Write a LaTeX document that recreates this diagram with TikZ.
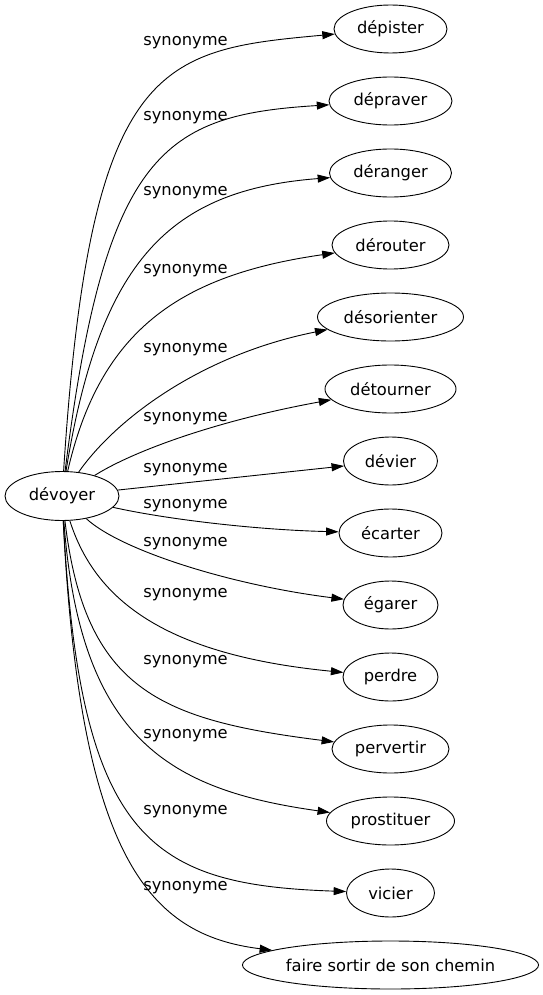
\documentclass[tikz,border=0pt]{standalone}
\usepackage{fontspec}
\setmainfont{DejaVu Sans}
\usetikzlibrary{shapes.geometric,arrows.meta}
\begin{document}
\begin{tikzpicture}[x=1pt,y=-1pt,
  word/.style={ellipse,draw,line width=0.9pt,inner sep=0pt,minimum height=48pt,font=\fontsize{16.3}{18}\selectfont},
  lbl/.style={inner sep=0pt,anchor=base,font=\fontsize{16.3}{18}\selectfont},
  syn/.style={line width=0.9pt,-{Triangle[length=12.5pt,width=8pt]}}]
\useasboundingbox (0,0) rectangle (542,995);
\node[word,minimum width=114pt,minimum height=49pt] (src) at (62,496) {dévoyer};
\node[word,minimum width=113pt] (n1) at (390.5,29) {dépister};
\node[word,minimum width=123pt] (n2) at (390.5,101) {dépraver};
\node[word,minimum width=122pt] (n3) at (390.5,173) {déranger};
\node[word,minimum width=117pt] (n4) at (390.5,245) {dérouter};
\node[word,minimum width=146pt] (n5) at (390.5,317) {désorienter};
\node[word,minimum width=131pt] (n6) at (390.5,389) {détourner};
\node[word,minimum width=94pt] (n7) at (390.5,461) {dévier};
\node[word,minimum width=103pt] (n8) at (390.5,533) {écarter};
\node[word,minimum width=95pt] (n9) at (390.5,605) {égarer};
\node[word,minimum width=95pt] (n10) at (390.5,677) {perdre};
\node[word,minimum width=117pt] (n11) at (390.5,749) {pervertir};
\node[word,minimum width=128pt] (n12) at (390.5,821) {prostituer};
\node[word,minimum width=88pt] (n13) at (390.5,893) {vicier};
\node[word,minimum width=295pt] (n14) at (390.5,965) {faire sortir de son chemin};
\draw[syn] (src) .. controls (90,60) and (160,50) .. (n1);
\draw[syn] (src) .. controls (105,150) and (165,115) .. (n2);
\draw[syn] (src) .. controls (100,260) and (170,190) .. (n3);
\draw[syn] (src) .. controls (100,330) and (180,275) .. (n4);
\draw[syn] (src) .. controls (115,420) and (200,355) .. (n5);
\draw[syn] (src) .. controls (135,450) and (220,420) .. (n6);
\draw[syn] (src) -- (n7);
\draw[syn] (src) .. controls (170,520) and (260,530) .. (n8);
\draw[syn] (src) .. controls (120,550) and (230,585) .. (n9);
\draw[syn] (src) .. controls (95,600) and (165,655) .. (n10);
\draw[syn] (src) .. controls (85,690) and (160,720) .. (n11);
\draw[syn] (src) .. controls (80,740) and (170,790) .. (n12);
\draw[syn] (src) .. controls (80,840) and (150,885) .. (n13);
\draw[syn] (src) .. controls (80,860) and (150,935) .. (n14);
\node[lbl] (l1) at (185.5,45.5) {synonyme};
\node[lbl] (l2) at (185.5,120.5) {synonyme};
\node[lbl] (l3) at (185.5,195.5) {synonyme};
\node[lbl] (l4) at (185.5,273.5) {synonyme};
\node[lbl] (l5) at (185.5,352.5) {synonyme};
\node[lbl] (l6) at (185.5,421.5) {synonyme};
\node[lbl] (l7) at (185.5,472.5) {synonyme};
\node[lbl] (l8) at (185.5,508.5) {synonyme};
\node[lbl] (l9) at (185.5,546.5) {synonyme};
\node[lbl] (l10) at (185.5,597.5) {synonyme};
\node[lbl] (l11) at (185.5,664.5) {synonyme};
\node[lbl] (l12) at (185.5,738.5) {synonyme};
\node[lbl] (l13) at (185.5,814.5) {synonyme};
\node[lbl] (l14) at (185.5,890.5) {synonyme};
\end{tikzpicture}
\end{document}
